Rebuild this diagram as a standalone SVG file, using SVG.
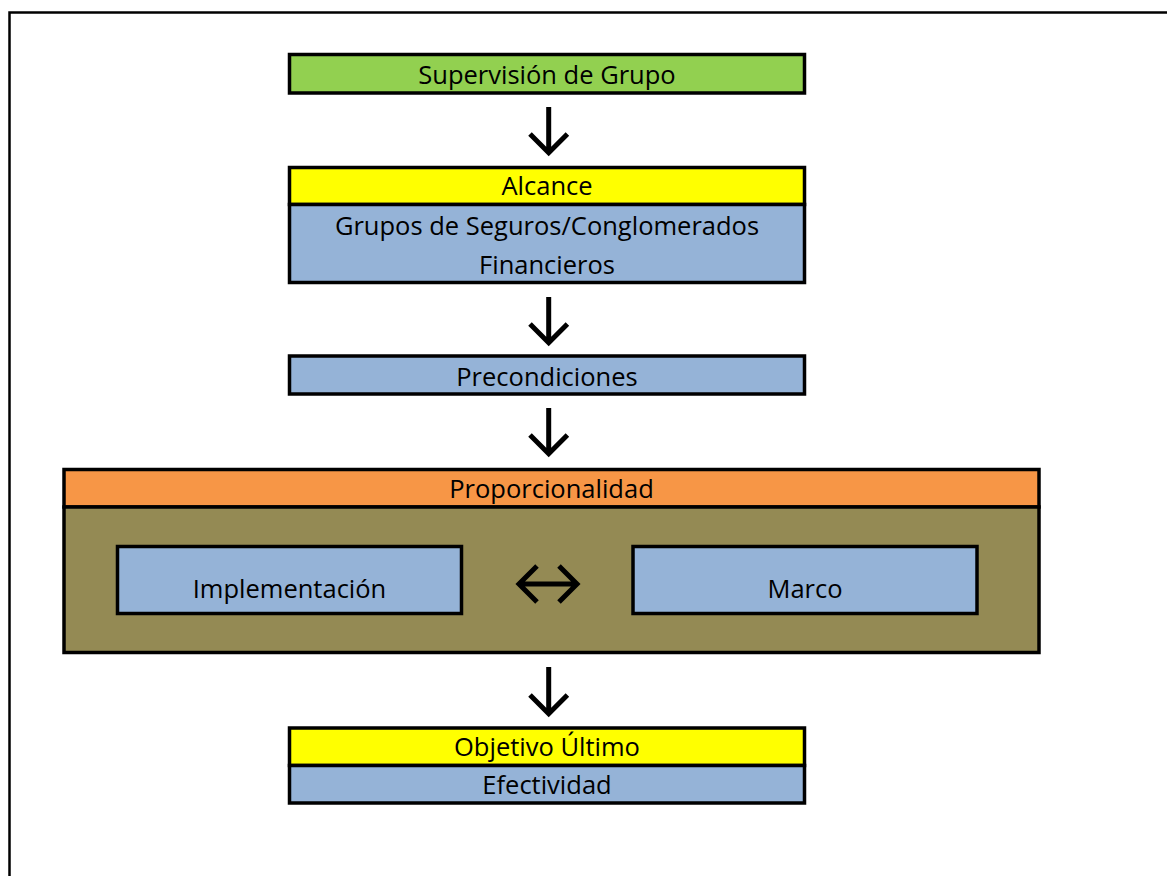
<svg xmlns="http://www.w3.org/2000/svg" width="1167" height="876" viewBox="0 0 1167 876">
<style>
.box{stroke:#000;stroke-width:3.5}
.t{font-family:"Open Sans","Noto Sans","Liberation Sans",sans-serif;font-size:25.5px;fill:#000;text-anchor:middle;font-variant-ligatures:none}
.arr{fill:none;stroke:#000;stroke-width:5;stroke-linecap:butt;stroke-linejoin:miter}
</style>
<rect width="1167" height="876" fill="#fff"/>
<path d="M9.5 876 V12.5 H1167" fill="none" stroke="#000" stroke-width="2.5"/>
<g id="supervision">
<rect class="box" x="289.5" y="54.5" width="515" height="38.5" fill="#92D050"/>
<text class="t" x="547" y="83.5">Supervisión de Grupo</text>
</g>
<g id="alcance">
<rect class="box" x="289.5" y="167.5" width="515" height="37" fill="#FFFF00"/>
<rect class="box" x="289.5" y="204.5" width="515" height="78" fill="#95B3D7"/>
<text class="t" x="547" y="195">Alcance</text>
<text class="t" x="547" y="234.5">Grupos de Seguros/Conglomerados</text>
<text class="t" x="547" y="273.5">Financieros</text>
</g>
<g id="precondiciones">
<rect class="box" x="289.5" y="356" width="515" height="38" fill="#95B3D7"/>
<text class="t" x="547" y="385.5">Precondiciones</text>
</g>
<g id="proporcionalidad">
<rect class="box" x="64" y="469.5" width="975" height="37.5" fill="#F79646"/>
<rect class="box" x="64" y="507" width="975" height="145.5" fill="#948A54"/>
<text class="t" x="551.5" y="497.5">Proporcionalidad</text>
</g>
<g id="implementacion">
<rect class="box" x="117.5" y="546.5" width="344" height="67" fill="#95B3D7"/>
<text class="t" x="289.5" y="597.5">Implementación</text>
</g>
<g id="marco">
<rect class="box" x="633" y="546.5" width="344" height="67" fill="#95B3D7"/>
<text class="t" x="805" y="597.5">Marco</text>
</g>
<g id="objetivo">
<rect class="box" x="289.5" y="728" width="515" height="37.5" fill="#FFFF00"/>
<rect class="box" x="289.5" y="765.5" width="515" height="37.5" fill="#95B3D7"/>
<text class="t" x="547" y="755.5">Objetivo Último</text>
<text class="t" x="547" y="793.5">Efectividad</text>
</g>
<g id="connectors">
<path class="arr" d="M548.7 107 V152 M530 134 L548.7 152.7 L567.4 134"/>
<path class="arr" d="M548.7 297 V342 M530 324 L548.7 342.7 L567.4 324"/>
<path class="arr" d="M548.7 408 V453 M530 435 L548.7 453.7 L567.4 435"/>
<path class="arr" d="M548.7 667 V713 M530 695 L548.7 713.7 L567.4 695"/>
<path class="arr" d="M520 584 H576 M537 566 L519 584 L537 602 M559 566 L577 584 L559 602"/>
</g>
</svg>
